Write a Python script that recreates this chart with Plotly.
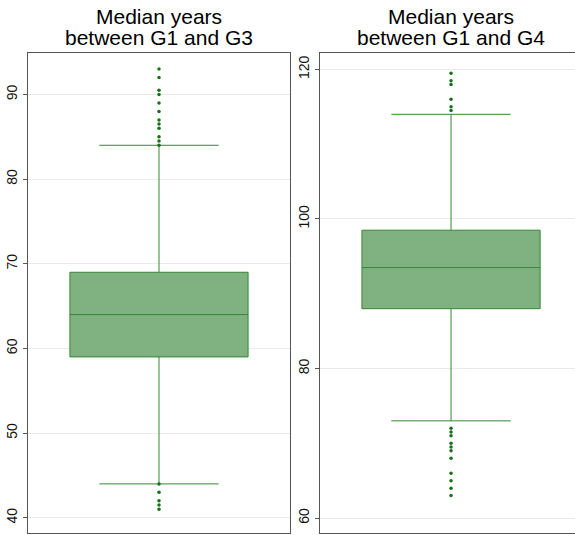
import plotly.graph_objects as go

# ---- data ----
panel_titles = [["Median years", "between G1 and G3"], ["Median years", "between G1 and G4"]]
categories = ["G1-G3", "G1-G4"]

g3_q1, g3_median, g3_q3 = 59, 64, 69
g3_lowerfence, g3_upperfence = 44, 84
g3_outliers = [93, 92, 90.5, 90, 89, 88, 87, 86.5, 86, 85, 84.5, 84, 44, 43, 42, 41.5, 41]

g4_q1, g4_median, g4_q3 = 88, 93.5, 98.5
g4_lowerfence, g4_upperfence = 73, 114
g4_outliers = [119.5, 118.5, 118, 116, 115, 114.5, 72, 71.5, 71, 70, 69.5, 69, 68, 66, 65, 64, 63]

g3_ticks = [40, 50, 60, 70, 80, 90]
g4_ticks = [60, 80, 100, 120]

# ---- style ----
W, H = 575, 535
FILL = "rgb(128,177,128)"
LINE = "rgb(52,135,52)"
DOT = "rgb(24,112,24)"
FRAME = "#555555"
GRID = "#ebebeb"
FONT = "Liberation Sans, Arial, sans-serif"

fig = go.Figure()

fig.add_trace(go.Box(
    x=[categories[0]], q1=[g3_q1], median=[g3_median], q3=[g3_q3],
    lowerfence=[g3_lowerfence], upperfence=[g3_upperfence],
    width=0.68, whiskerwidth=0.67, fillcolor=FILL,
    line=dict(color=LINE, width=1), boxpoints=False,
    xaxis="x", yaxis="y", showlegend=False, hoverinfo="skip"))
fig.add_trace(go.Scatter(
    x=[categories[0]] * len(g3_outliers), y=g3_outliers, mode="markers",
    marker=dict(color=DOT, size=3.5), xaxis="x", yaxis="y",
    showlegend=False, hoverinfo="skip"))

fig.add_trace(go.Box(
    x=[categories[1]], q1=[g4_q1], median=[g4_median], q3=[g4_q3],
    lowerfence=[g4_lowerfence], upperfence=[g4_upperfence],
    width=0.68, whiskerwidth=0.67, fillcolor=FILL,
    line=dict(color=LINE, width=1), boxpoints=False,
    xaxis="x2", yaxis="y2", showlegend=False, hoverinfo="skip"))
fig.add_trace(go.Scatter(
    x=[categories[1]] * len(g4_outliers), y=g4_outliers, mode="markers",
    marker=dict(color=DOT, size=3.5), xaxis="x2", yaxis="y2",
    showlegend=False, hoverinfo="skip"))

left_dom = [28 / W, 290 / W]
right_dom = [320 / W, 1.0]
y_dom = [2 / H, 482 / H]

common_x = dict(showticklabels=False, ticks="", showgrid=False, zeroline=False,
                showline=True, linecolor=FRAME, linewidth=1, mirror=True,
                type="category")
common_y = dict(showgrid=True, gridcolor=GRID, gridwidth=1, zeroline=False,
                showline=True, linecolor=FRAME, linewidth=1,
                ticks="outside", ticklen=4, tickcolor=FRAME, tickangle=-90,
                ticklabelstandoff=0,
                tickfont=dict(size=14, color="#111", family=FONT), domain=y_dom)

fig.update_layout(
    width=W, height=H,
    margin=dict(l=0, r=0, t=0, b=0),
    paper_bgcolor="white", plot_bgcolor="white",
    font=dict(family=FONT),
    xaxis=dict(domain=left_dom, range=[-0.5, 0.5], anchor="y", **common_x),
    yaxis=dict(range=[38.2, 94.9], tickvals=g3_ticks, anchor="x", mirror=True, **common_y),
    xaxis2=dict(domain=right_dom, range=[-0.5, 0.473], anchor="y2", **common_x),
    yaxis2=dict(range=[58.0, 122.2], tickvals=g4_ticks, anchor="x2", mirror=False, **common_y),
)

centers = [159 / W, 451 / W]
for c, lines in zip(centers, panel_titles):
    for i, line in enumerate(lines):
        fig.add_annotation(
            x=c, y=1 - (16 + 22 * i) / H, xref="paper", yref="paper",
            text=line, showarrow=False, xanchor="center", yanchor="middle",
            font=dict(size=21, color="black", family=FONT))

fig.write_html("out.html")
